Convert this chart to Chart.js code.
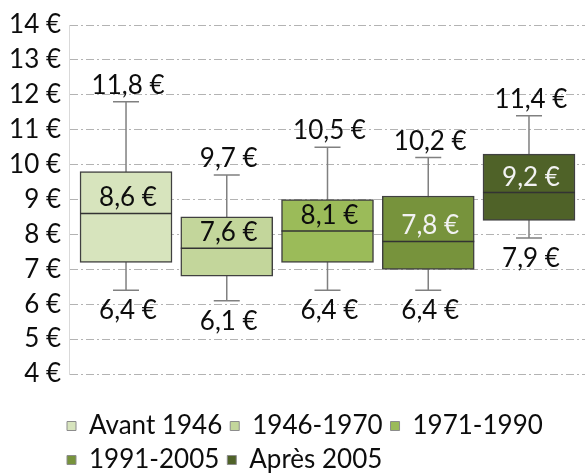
<!DOCTYPE html>
<html>
<head>
<meta charset="utf-8">
<script src="https://cdn.jsdelivr.net/npm/chart.js@4"></script>
<style>
  html, body { margin: 0; padding: 0; background: #fff; }
  #wrap { width: 585px; height: 474px; }
</style>
</head>
<body>
<div id="wrap"><canvas id="myChart"></canvas></div>
<script>
// Data
const categories = ['Avant 1946', '1946-1970', '1971-1990', '1991-2005', 'Après 2005'];
const minimum   = [6.4, 6.1, 6.4, 6.4, 7.9];
const quartile1 = [7.2, 6.8, 7.2, 7.0, 8.4];
const median    = [8.6, 7.6, 8.1, 7.8, 9.2];
const quartile3 = [9.8, 8.5, 9.0, 9.1, 10.3];
const maximum   = [11.8, 9.7, 10.5, 10.2, 11.4];
const yTicks    = [4, 5, 6, 7, 8, 9, 10, 11, 12, 13, 14];

// Styles
const colors = ['#d7e4bd', '#c3d69b', '#9bbb59', '#77933c', '#4f6228'];
const labelColors = ['#0d0d0d', '#0d0d0d', '#0d0d0d', '#f2f2f2', '#f2f2f2'];
const font = '26px Lato';

const euro = v => v.toFixed(1).replace('.', ',') + ' €';

// Whiskers, medians and value labels
const boxPlot = {
    id: 'boxPlot',
    beforeDatasetsDraw(chart) {
        const {ctx, scales: {y}} = chart;
        ctx.save();
        ctx.strokeStyle = '#808080';
        ctx.lineWidth = 1.5;
        categories.forEach((c, i) => {
            const bar = chart.getDatasetMeta(i).data[0];
            const top = y.getPixelForValue(maximum[i]);
            const bottom = y.getPixelForValue(minimum[i]);
            ctx.beginPath();
            ctx.moveTo(bar.x, top);
            ctx.lineTo(bar.x, bottom);
            ctx.moveTo(bar.x - 13, top);
            ctx.lineTo(bar.x + 13, top);
            ctx.moveTo(bar.x - 13, bottom);
            ctx.lineTo(bar.x + 13, bottom);
            ctx.stroke();
        });
        ctx.restore();
    },
    afterDatasetsDraw(chart) {
        const {ctx, scales: {y}} = chart;
        ctx.save();
        ctx.font = font;
        ctx.textAlign = 'center';
        ctx.textBaseline = 'alphabetic';
        categories.forEach((c, i) => {
            const bar = chart.getDatasetMeta(i).data[0];
            const half = bar.width / 2;
            const med = y.getPixelForValue(median[i]);
            ctx.strokeStyle = '#333333';
            ctx.lineWidth = 1.5;
            ctx.beginPath();
            ctx.moveTo(bar.x - half, med);
            ctx.lineTo(bar.x + half, med);
            ctx.stroke();

            ctx.fillStyle = labelColors[i];
            ctx.fillText(euro(median[i]), bar.x + 2, med - 7);
            ctx.fillStyle = '#0d0d0d';
            ctx.fillText(euro(maximum[i]), bar.x + 2, y.getPixelForValue(maximum[i]) - 8);
            ctx.fillText(euro(minimum[i]), bar.x + 2, y.getPixelForValue(minimum[i]) + 29);
        });
        ctx.restore();
    }
};

// Legend placement (left aligned, three items on the first row)
const legendPlace = {
    id: 'legendPlace',
    afterLayout(chart) {
        const lg = chart.legend;
        const pad = lg.options.labels.padding;
        lg.left = 67 - pad;
        lg.right = 585;
        lg.top = 405;
        lg.bottom = 474;
    }
};

const ctx = document.getElementById('myChart').getContext('2d');
const chart = new Chart(ctx, {
    type: 'bar',
    data: {
        datasets: categories.map((c, i) => ({
            label: c,
            data: [{x: i + 1, y: [quartile1[i], quartile3[i]]}],
            backgroundColor: colors[i],
            borderColor: '#404040',
            borderWidth: 1.5,
            borderSkipped: false,
            barThickness: 92,
            grouped: false
        }))
    },
    options: {
        responsive: true,
        maintainAspectRatio: false,
        animation: false,
        layout: {padding: {top: 25, bottom: 22, left: 0, right: 0}},
        scales: {
            x: {
                type: 'linear',
                offset: false,
                min: 0.434,
                max: 5.556,
                display: false
            },
            y: {
                min: yTicks[0],
                max: yTicks[yTicks.length - 1],
                ticks: {
                    stepSize: 1,
                    padding: 8,
                    color: '#0d0d0d',
                    font: {family: 'Lato', size: 26},
                    callback: v => v + ' €'
                },
                grid: {color: '#b3b3b3', lineWidth: 1, drawTicks: false},
                border: {color: '#d9d9d9', width: 1, dash: [8, 3, 2, 3]},
                afterFit(scale) { scale.width = 69; }
            }
        },
        plugins: {
            tooltip: {enabled: false},
            legend: {
                position: 'bottom',
                align: 'start',
                labels: {
                    color: '#0d0d0d',
                    font: {family: 'Lato', size: 26},
                    boxWidth: 9,
                    boxHeight: 9,
                    padding: 8,
                    generateLabels(chart) {
                        return Chart.defaults.plugins.legend.labels.generateLabels(chart).map(item => {
                            item.strokeStyle = '#8c8c8c';
                            item.lineWidth = 1;
                            return item;
                        });
                    }
                }
            }
        }
    },
    plugins: [boxPlot, legendPlace]
});
</script>
</body>
</html>
